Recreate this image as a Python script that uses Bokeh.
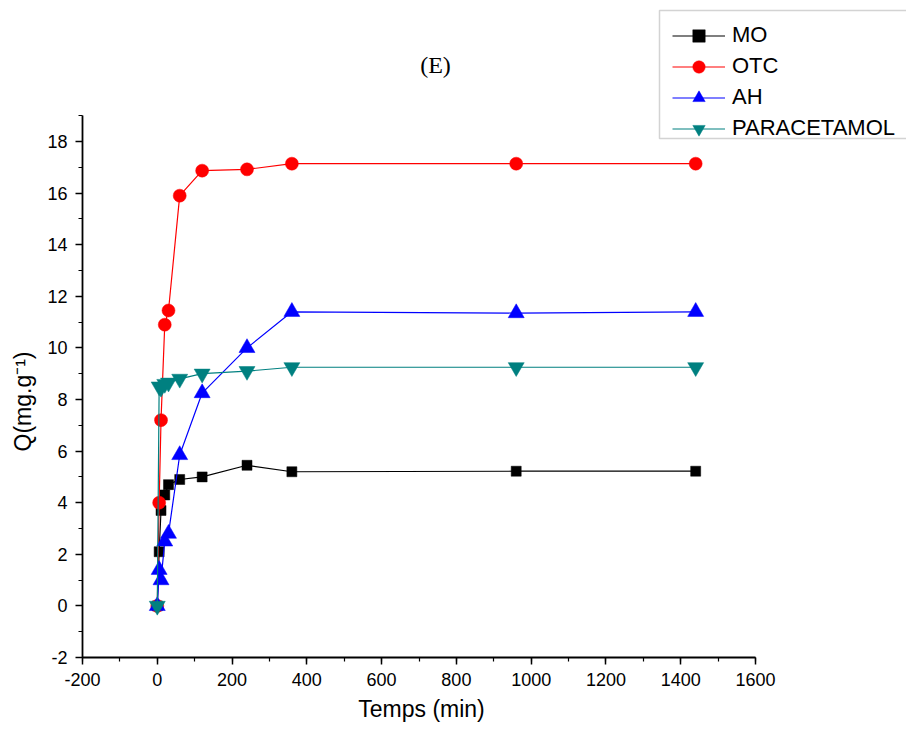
import math
from bokeh.plotting import figure
from bokeh.models import (SingleIntervalTicker, Label, Range1d, BoxAnnotation,
                          PrintfTickFormatter)
from bokeh.embed import file_html
from bokeh.resources import INLINE

temps = [0, 5, 10, 20, 30, 60, 120, 240, 360, 960, 1440]
mo = [0, 2.1, 3.7, 4.3, 4.7, 4.9, 5.0, 5.45, 5.2, 5.22, 5.22]
otc = [0, 4.0, 7.2, 10.9, 11.45, 15.9, 16.87, 16.92, 17.14, 17.14, 17.14]
ah = [0, 1.4, 1.0, 2.5, 2.8, 5.85, 8.25, 10.0, 11.4, 11.35, 11.4]
para = [0, 8.5, 8.45, 8.6, 8.65, 8.8, 9.0, 9.1, 9.25, 9.25, 9.25]

series = [
    ("MO", mo, "#000000", "square", 10),
    ("OTC", otc, "#ff0000", "circle", 13),
    ("AH", ah, "#0000ff", "triangle", 16),
    ("PARACETAMOL", para, "#008080", "inverted_triangle", 16),
]

W, H = 906, 725
AX_L, AX_B = 82, 657       # pixel position of x=-200 and y=-2
XPX = 673 / 1800           # px per minute
YPX = 516 / 20             # px per Q unit

p = figure(width=W, height=H, output_backend="svg", toolbar_location=None,
           title=None,
           x_range=Range1d(-200 - AX_L / XPX, -200 + (W - AX_L) / XPX),
           y_range=Range1d(-2 - (H - AX_B) / YPX, -2 + AX_B / YPX),
           min_border_left=0, min_border_right=0, min_border_top=0,
           min_border_bottom=0)
p.outline_line_color = None
p.xgrid.visible = False
p.ygrid.visible = False
p.background_fill_color = "white"
p.border_fill_color = "white"

# legend frame (under everything)
box = BoxAnnotation(left=659, right=940, bottom=H - 138, top=H - 10,
                    left_units="screen", right_units="screen",
                    bottom_units="screen", top_units="screen",
                    fill_color="white", fill_alpha=1.0,
                    line_color="#6e6e6e", line_width=1.5, level="underlay")
p.add_layout(box)

for name, vals, col, mk, sz in series:
    p.line(temps, vals, line_color=col, line_width=1.2, legend_label=name)
    p.scatter(temps, vals, marker=mk, size=sz, fill_color=col, line_color=col,
              line_width=0.5, legend_label=name)

p.xaxis.ticker = SingleIntervalTicker(interval=200, num_minor_ticks=2)
p.yaxis.ticker = SingleIntervalTicker(interval=2, num_minor_ticks=2)
p.xaxis.formatter = PrintfTickFormatter(format="%d")
p.yaxis.formatter = PrintfTickFormatter(format="%d")
p.xaxis.bounds = (-200, 1600)
p.yaxis.bounds = (-2, 19)
p.xaxis.fixed_location = -2
p.yaxis.fixed_location = -200
for ax in (p.xaxis, p.yaxis):
    ax.axis_line_width = 1.8
    ax.axis_line_color = "black"
    ax.major_tick_line_color = "black"
    ax.minor_tick_line_color = "black"
    ax.major_tick_line_width = 1.5
    ax.minor_tick_line_width = 1.2
    ax.major_tick_in = 0
    ax.major_tick_out = 7
    ax.minor_tick_in = 0
    ax.minor_tick_out = 4
    ax.major_label_text_color = "black"
    ax.major_label_text_font = "Liberation Sans"
    ax.major_label_text_font_size = "18px"
    ax.major_label_standoff = 8

# axis titles and chart title
p.add_layout(Label(x=421, y=4, x_units="screen", y_units="screen",
                   text="Temps (min)", text_align="center",
                   text_baseline="bottom", text_font="Liberation Sans",
                   text_font_size="23px", text_color="black"))
p.add_layout(Label(x=22, y=H - 401, x_units="screen", y_units="screen",
                   text="Q(mg.g⁻¹)", angle=math.pi / 2, text_align="center",
                   text_baseline="middle", text_font="Liberation Sans",
                   text_font_size="23px", text_color="black"))
p.add_layout(Label(x=435, y=H - 64, x_units="screen", y_units="screen",
                   text="(E)", text_align="center", text_baseline="middle",
                   text_font="Liberation Serif", text_font_size="24px",
                   text_color="black"))

lg = p.legend[0]
lg.location = (672, H - 143.5)
lg.margin = 0
lg.padding = 4
lg.spacing = 0
lg.glyph_width = 53
lg.glyph_height = 31
lg.label_height = 31
lg.label_standoff = 7
lg.label_text_font = "Liberation Sans"
lg.label_text_font_size = "22px"
lg.label_text_color = "black"
lg.border_line_color = None
lg.background_fill_alpha = 0.0

open("out.html", "w").write(file_html(p, INLINE))
